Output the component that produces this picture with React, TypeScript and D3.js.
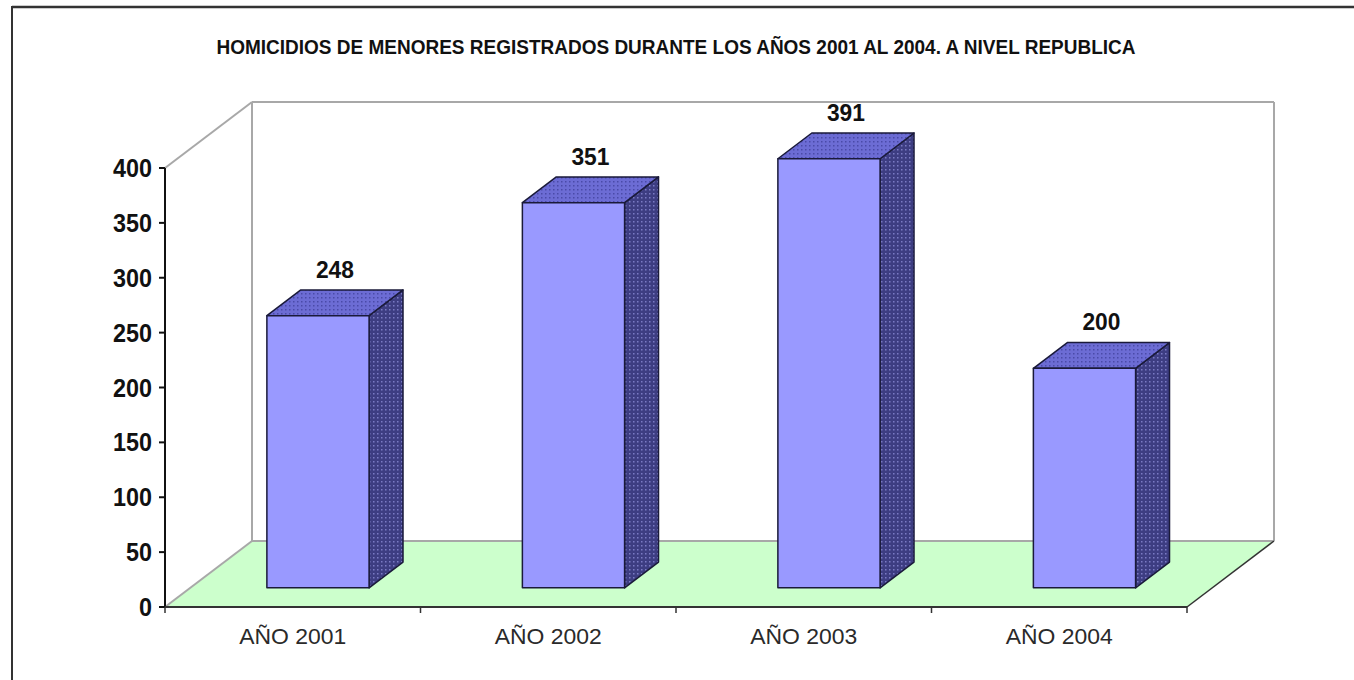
import * as d3 from "d3";

// datos del gráfico
const categories = ["AÑO 2001", "AÑO 2002", "AÑO 2003", "AÑO 2004"];
const values = [248, 351, 391, 200];
const yTicks = [0, 50, 100, 150, 200, 250, 300, 350, 400];
const title =
  "HOMICIDIOS DE MENORES REGISTRADOS DURANTE LOS AÑOS 2001 AL 2004. A NIVEL REPUBLICA";

export default function App() {
  const width = 1354;
  const height = 680;

  // plano frontal y profundidad del efecto 3D
  const left = 165;
  const right = 1187;
  const DX = 87;
  const DY = -66;
  const f0 = 0.29; // cara frontal de la barra
  const f1 = 0.68; // cara trasera de la barra

  const x = d3.scaleBand().domain(categories).range([left, right]).padding(0);
  const y = d3.scaleLinear().domain([0, 400]).range([607, 168]);
  const band = x.bandwidth();
  const bw = band * 0.4;
  const ddx = (f1 - f0) * DX;
  const ddy = (f1 - f0) * DY;

  const y0 = y(0);
  const yTop = y(400);
  const font = "'Liberation Sans', Arial, sans-serif";
  const poly = (pts: number[][]) => pts.map((p) => p.join(",")).join(" ");

  return (
    <svg
      width={width}
      height={height}
      viewBox={`0 0 ${width} ${height}`}
      style={{ position: "absolute", left: 0, top: 0, background: "#fff" }}
    >
      <defs>
        <pattern id="topDots" width="4" height="4" patternUnits="userSpaceOnUse">
          <rect width="4" height="4" fill="#6C6CD4" />
          <rect x="1" y="1" width="1.5" height="1.5" fill="#4A4AA8" />
        </pattern>
        <pattern id="sideDots" width="4" height="4" patternUnits="userSpaceOnUse">
          <rect width="4" height="4" fill="#3D3D82" />
          <rect x="1" y="1" width="1.5" height="1.5" fill="#7A7AC4" />
        </pattern>
      </defs>

      {/* marco exterior */}
      <line x1={12} y1={7} x2={width} y2={7} stroke="#333" strokeWidth={2.5} />
      <line x1={12} y1={6} x2={12} y2={height} stroke="#333" strokeWidth={2} />

      {/* título */}
      <text
        x={(left + right) / 2}
        y={54}
        textAnchor="middle"
        fontFamily={font}
        fontWeight="bold"
        fontSize={20.5}
        textLength={919}
        lengthAdjust="spacingAndGlyphs"
        fill="#111"
      >
        {title}
      </text>

      {/* suelo */}
      <polygon
        points={poly([
          [left, y0],
          [left + DX, y0 + DY],
          [right + DX, y0 + DY],
          [right, y0],
        ])}
        fill="#CCFFCC"
      />
      {/* paredes */}
      <g stroke="#A8A8A8" strokeWidth={2} fill="none">
        <line x1={left} y1={yTop} x2={left + DX} y2={yTop + DY} />
        <line x1={left + DX} y1={yTop + DY} x2={right + DX} y2={yTop + DY} />
        <line x1={left + DX} y1={yTop + DY} x2={left + DX} y2={y0 + DY} />
        <line x1={right + DX} y1={yTop + DY} x2={right + DX} y2={y0 + DY} />
        <line x1={left + DX} y1={y0 + DY} x2={right + DX} y2={y0 + DY} />
        <line x1={left} y1={y0} x2={left + DX} y2={y0 + DY} />
      </g>
      <line
        x1={right}
        y1={y0}
        x2={right + DX}
        y2={y0 + DY}
        stroke="#333"
        strokeWidth={1.5}
      />

      {/* barras */}
      {categories.map((c, i) => {
        const xl = (x(c) as number) + (band - bw) / 2 + f0 * DX;
        const xr = xl + bw;
        const yt = y(values[i]) + f0 * DY;
        const yb = y0 + f0 * DY;
        return (
          <g key={c} stroke="#1A1A3A" strokeWidth={1.5} strokeLinejoin="round">
            <polygon
              points={poly([
                [xr, yt],
                [xr + ddx, yt + ddy],
                [xr + ddx, yb + ddy],
                [xr, yb],
              ])}
              fill="url(#sideDots)"
            />
            <polygon
              points={poly([
                [xl, yt],
                [xl + ddx, yt + ddy],
                [xr + ddx, yt + ddy],
                [xr, yt],
              ])}
              fill="url(#topDots)"
            />
            <rect x={xl} y={yt} width={bw} height={yb - yt} fill="#9999FF" />
            <text
              x={(xl + xr) / 2 + ddx / 2}
              y={yt - 38}
              textAnchor="middle"
              fontFamily={font}
              fontWeight="bold"
              fontSize={24}
              textLength={38}
              lengthAdjust="spacingAndGlyphs"
              fill="#111"
              stroke="none"
            >
              {values[i]}
            </text>
          </g>
        );
      })}

      {/* eje Y */}
      <line x1={left} y1={yTop} x2={left} y2={y0} stroke="#111" strokeWidth={2} />
      {yTicks.map((t) => (
        <g key={t}>
          <line x1={left - 6} y1={y(t)} x2={left} y2={y(t)} stroke="#111" strokeWidth={2} />
          <text
            x={152}
            y={y(t)}
            dy="0.36em"
            textAnchor="end"
            fontFamily={font}
            fontWeight="bold"
            fontSize={25}
            textLength={String(t).length * 13}
            lengthAdjust="spacingAndGlyphs"
            fill="#111"
          >
            {t}
          </text>
        </g>
      ))}

      {/* eje X */}
      <line x1={left} y1={y0} x2={right} y2={y0} stroke="#333" strokeWidth={2} />
      {[...categories.map((c) => x(c) as number), right].map((px, i) => (
        <line key={i} x1={px} y1={y0} x2={px} y2={y0 + 6} stroke="#333" strokeWidth={1.5} />
      ))}
      {categories.map((c) => (
        <text
          key={c}
          x={(x(c) as number) + band / 2}
          y={644}
          textAnchor="middle"
          fontFamily={font}
          fontSize={22}
          textLength={107}
          lengthAdjust="spacingAndGlyphs"
          fill="#2A2A2A"
        >
          {c}
        </text>
      ))}
    </svg>
  );
}
